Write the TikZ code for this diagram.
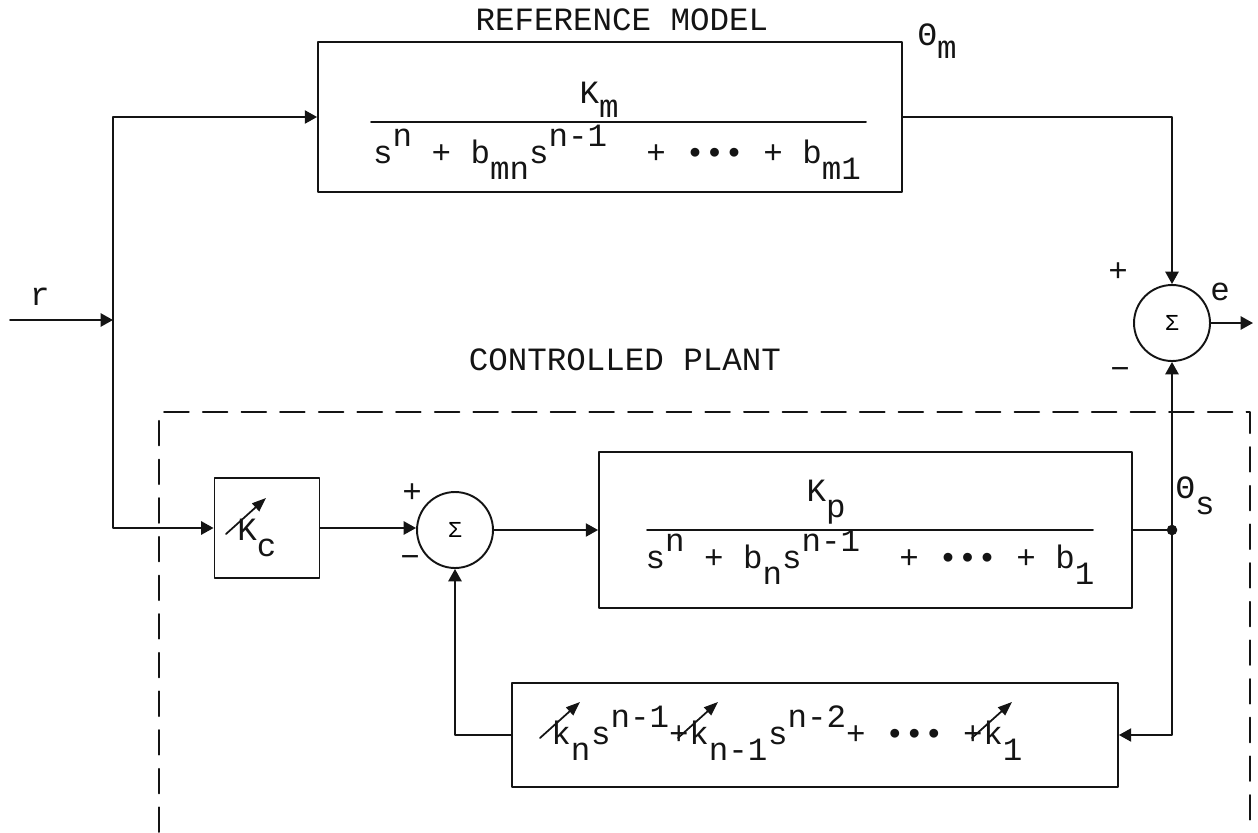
\documentclass[tikz,border=0pt]{standalone}
\usepackage{fontspec}
\setmainfont{Liberation Mono}
\usetikzlibrary{arrows.meta}
\usetikzlibrary{positioning}
\newcommand{\lo}[2][0.5em]{\raisebox{-#1}{#2}}
\newcommand{\hi}[2][0.5em]{\raisebox{#1}{#2}}

\begin{document}
\begin{tikzpicture}[
    >={Triangle[length=7pt,width=7.5pt]},
    line cap=round,
    line join=round,
    x=0.02cm,
    y=-0.02cm,
    font=\fontsize{18.5}{22}\selectfont
]

% =========================================================
% Colors
% =========================================================
\definecolor{ink}{RGB}{20,20,20}

% =========================================================
% Styles
% =========================================================
\tikzset{
    block/.style={draw=ink,line width=1.1pt,inner sep=0pt},
    sumnode/.style={draw=ink,line width=1.1pt,circle,minimum size=1.52cm,
        inner sep=0pt,font=\fontsize{13}{15}\selectfont},
    txt/.style={inner sep=0pt,text=ink},
    wire/.style={draw=ink,line width=1.1pt},
    sig/.style={->,draw=ink,line width=1.1pt},
    gain/.style={-{Triangle[length=8pt,width=6pt]},draw=ink,line width=1pt},
    frame/.style={draw=ink,line width=1.1pt,dash pattern=on 14pt off 8pt}
}

\useasboundingbox (0,0) rectangle (1258,832);

% =========================================================
% Reference model
% =========================================================
\node[txt] (reftitle) at (622,20) {REFERENCE MODEL};
\node[block,minimum width=11.68cm,minimum height=3cm] (refm) at (610,117) {};
\node[txt,anchor=base] (kmnum) at (599,103) {K\lo[0.45em]{m}};
\coordinate (refl) at (371,122);
\coordinate (refr) at (866,122);
\draw[wire] (refl) -- (refr);
\node[txt,anchor=base] (kmden) at (617,163)
    {s\hi{n} + b\lo{mn}s\hi{n-1}\ \ + ••• + b\lo{m1}};
\node[txt,anchor=base] (thetam) at (937,45) {Θ\lo[0.4em]{m}};

% error summing junction
\node[sumnode] (esum) at (1172,323) {Σ};
\node[txt] (eplus) at (1118,272) {+};
\node[txt] (eminus) at (1120,374) {−};
\node[txt] (elabel) at (1220,292) {e};
\coordinate (eout) at (1253,323);
\draw[sig] (esum.east) -- (eout);
\draw[sig] (refm.east) -| (esum.north);

% input
\node[txt] (rlabel) at (40,297) {r};
\coordinate (rin) at (10,320);
\coordinate (rsplit) at (113,320);
\draw[sig] (rin) -- (rsplit);
\draw[sig] (rsplit) |- (refm.west);

% =========================================================
% Controlled plant
% =========================================================
\node[txt] (plantlabel) at (625,360) {CONTROLLED PLANT};
\draw[frame] (159,832) -- (159,412) -- (1250,412) -- (1250,832);

% adjustable gain
\node[block,minimum width=2.1cm,minimum height=2cm] (kc) at (267,528) {};
\node[txt,anchor=base west] (kctext) at (237,540) {K\lo{c}};
\draw[gain] ([shift={(-11,-6)}]kctext.base west) -- ++(40,-36);
\draw[sig] (rsplit) |- (kc.west);

% inner summing junction
\node[sumnode] (psum) at (455,530) {Σ};
\node[txt] (pplus) at (412,493) {+};
\node[txt] (pminus) at (410,562) {−};
\draw[sig] (kc.east) -- (psum.west |- kc.east);

% plant
\node[block,minimum width=10.66cm,minimum height=3.12cm] (plant) at (865.5,530) {};
\draw[sig] (psum.east) -- (plant.west);
\node[txt,anchor=base] (kpnum) at (826,501) {K\lo{p}};
\coordinate (plantl) at (647,530);
\coordinate (plantr) at (1093,530);
\draw[wire] (plantl) -- (plantr);
\node[txt,anchor=base] (kpden) at (870,568)
    {s\hi{n} + b\lo{n}s\hi{n-1}\ \ + ••• + b\lo{1}};

% output tap
\coordinate (thetas) at (1172,530);
\draw[wire] (plant.east) -- (thetas);
\fill[ink] (thetas) circle (3pt);
\node[txt,anchor=base] (thetaslabel) at (1195,498) {Θ\lo{s}};
\draw[sig] (thetas) -- (esum.south);

% state feedback
\node[block,minimum width=12.12cm,minimum height=2.08cm] (fbk) at (815,735) {};
\draw[sig] (thetas) |- (fbk.east);
\draw[sig] (fbk.west) -| (psum.south);
\node[txt,anchor=base west] (kn) at (551,744) {k\lo{n}};
\node[txt,base right=0pt of kn] (sn1) {s\hi{n-1}+};
\node[txt,base right=0pt of sn1] (kn1) {k\lo{n-1}};
\node[txt,base right=0pt of kn1] (sn2) {s\hi{n-2}+ ••• +\ };
\node[txt,base right=0pt of sn2] (k1) {k\lo{1}};
\foreach \k in {kn,kn1,k1}
    \draw[gain] ([shift={(-11,-6)}]\k.base west) -- ++(40,-36);

\end{tikzpicture}
\end{document}
